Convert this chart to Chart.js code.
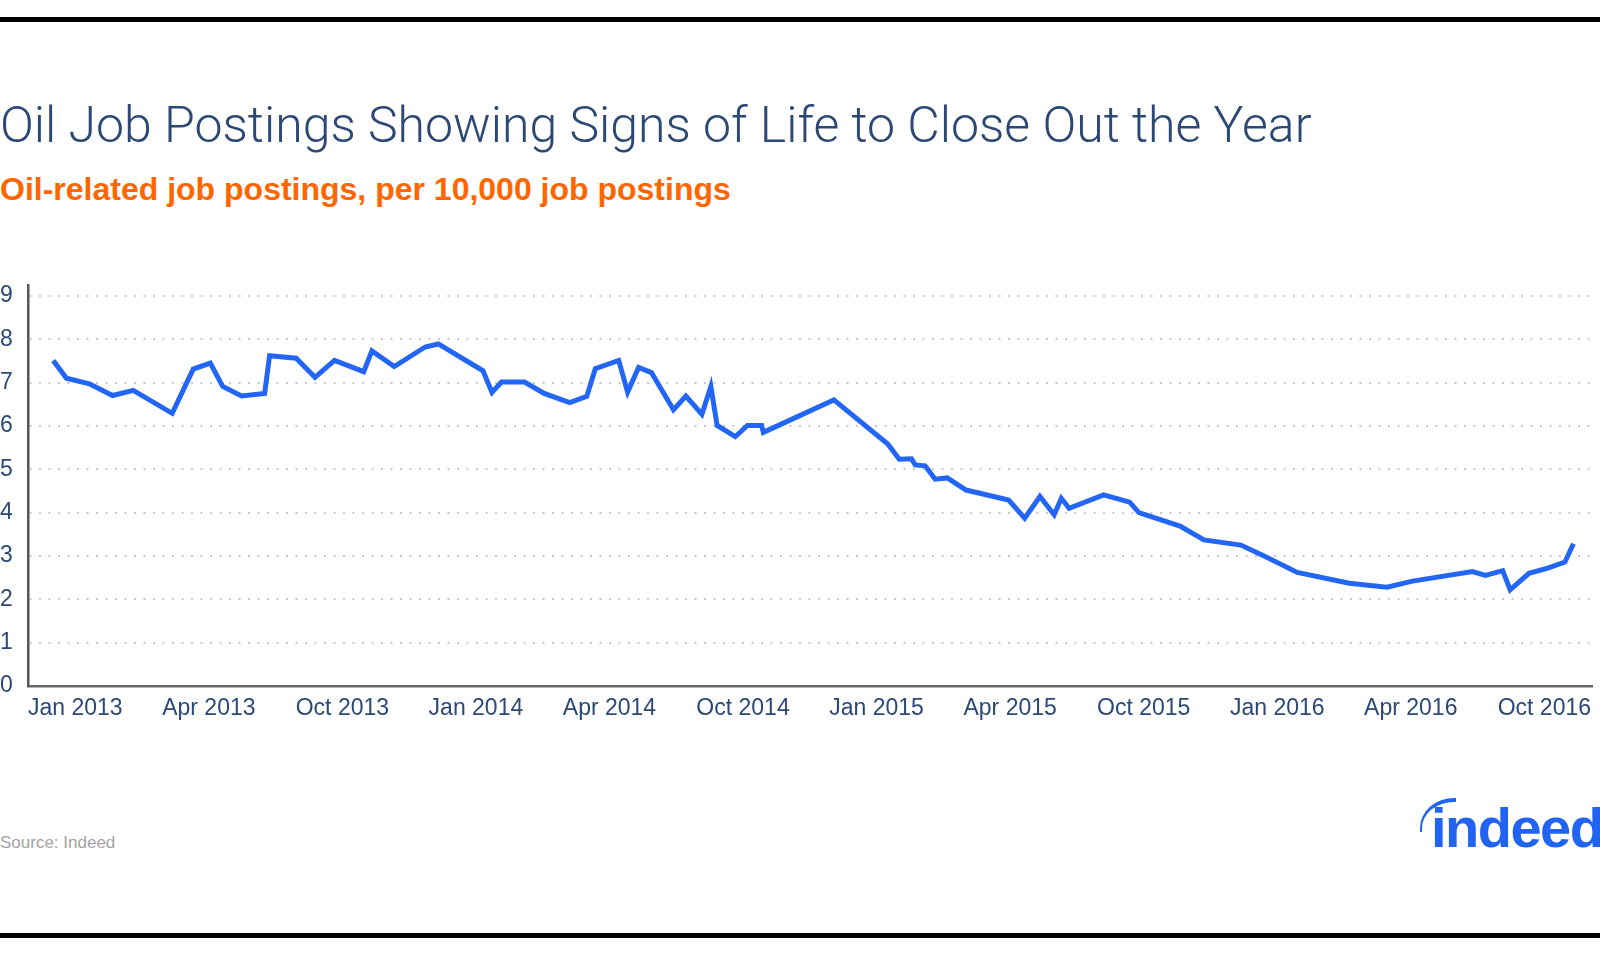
<!DOCTYPE html>
<html>
<head>
<meta charset="utf-8">
<script src="https://cdn.jsdelivr.net/npm/chart.js@4"></script>
<style>
    html, body { margin: 0; padding: 0; background: #fff; }
    body { width: 1600px; height: 956px; position: relative; overflow: hidden; font-family: "Liberation Sans", Arial, sans-serif; }
    .bar { position: absolute; left: 0; width: 1600px; height: 5px; background: #000; }
    .title { position: absolute; left: 0; top: 100px; font-family: Roboto, "Liberation Sans", sans-serif; font-weight: 300; font-size: 50px; line-height: 1; color: #2c4875; white-space: nowrap; }
    .subtitle { position: absolute; left: 0; top: 173px; font-weight: bold; font-size: 32px; line-height: 1; color: #ff6600; white-space: nowrap; }
    .source { position: absolute; left: 0; top: 834px; font-size: 17px; line-height: 1; color: #a3a3a3; }
    .logo { position: absolute; left: 1431px; top: 800px; font-weight: bold; font-size: 56px; line-height: 1; color: #2164f3; letter-spacing: -1.5px; }
    .swoosh { position: absolute; left: 1420px; top: 798px; width: 34px; height: 30px; border-left: 2px solid #2164f3; border-top: 4px solid #2164f3; border-top-left-radius: 34px 30px; }
    #chart { position: absolute; left: 0; top: 260px; }
</style>
</head>
<body>
<div class="bar" style="top:17px"></div>
<div class="title">Oil Job Postings Showing Signs of Life to Close Out the Year</div>
<div class="subtitle">Oil-related job postings, per 10,000 job postings</div>
<canvas id="chart" width="1600" height="480"></canvas>
<div class="source">Source: Indeed</div>
<div class="swoosh"></div>
<div class="logo">indeed</div>
<div class="bar" style="top:933px"></div>

<script>
// axis labels, one per evenly spaced slot on the x axis
const tickLabels = ['Jan 2013', 'Apr 2013', 'Oct 2013', 'Jan 2014', 'Apr 2014', 'Oct 2014',
                    'Jan 2015', 'Apr 2015', 'Oct 2015', 'Jan 2016', 'Apr 2016', 'Oct 2016'];
const yTicks = [0, 1, 2, 3, 4, 5, 6, 7, 8, 9];

// position along the label slots (0 = Jan 2013) and the value read at that point
const slotPos = [-0.165, -0.066, 0.106, 0.279, 0.434, 0.726, 0.883, 1.011, 1.104, 1.245,
                 1.418, 1.455, 1.654, 1.795, 1.941, 2.160, 2.221, 2.388, 2.620, 2.718,
                 3.053, 3.120, 3.191, 3.364, 3.511, 3.702, 3.830, 3.894, 4.069, 4.136,
                 4.218, 4.314, 4.479, 4.572, 4.692, 4.759, 4.806, 4.942, 5.033, 5.139,
                 5.152, 5.680, 6.084, 6.170, 6.262, 6.289, 6.364, 6.438, 6.529, 6.670,
                 6.989, 7.109, 7.223, 7.330, 7.383, 7.442, 7.700, 7.895, 7.964, 8.272,
                 8.451, 8.728, 8.894, 9.150, 9.540, 9.822, 10.013, 10.462, 10.559, 10.688,
                 10.744, 10.885, 11.026, 11.154, 11.218];
const oilPostings = [7.51, 7.10, 6.97, 6.70, 6.82, 6.29, 7.31, 7.45, 6.91, 6.69,
                     6.75, 7.62, 7.56, 7.12, 7.51, 7.25, 7.73, 7.37, 7.82, 7.89,
                     7.27, 6.77, 7.01, 7.01, 6.75, 6.54, 6.68, 7.32, 7.51, 6.78,
                     7.35, 7.23, 6.37, 6.69, 6.27, 6.91, 6.01, 5.75, 6.01, 6.01,
                     5.85, 6.60, 5.58, 5.23, 5.24, 5.10, 5.08, 4.77, 4.80, 4.52,
                     4.29, 3.87, 4.37, 3.95, 4.33, 4.10, 4.41, 4.24, 4.00, 3.69,
                     3.37, 3.25, 3.01, 2.62, 2.37, 2.28, 2.42, 2.64, 2.55, 2.66,
                     2.22, 2.60, 2.72, 2.86, 3.28];

const navy = '#2c4875';
const tickFont = { family: "'Liberation Sans', Arial, sans-serif", size: 23 };

const ctx = document.getElementById('chart').getContext('2d');
new Chart(ctx, {
    type: 'line',
    data: {
        datasets: [{
            label: 'Oil-related job postings',
            data: slotPos.map((x, i) => ({ x: x, y: oilPostings[i] })),
            borderColor: '#2366f5',
            borderWidth: 5,
            pointRadius: 0,
            fill: false,
            tension: 0
        }]
    },
    options: {
        responsive: false,
        animation: false,
        devicePixelRatio: 1,
        layout: { padding: { top: 25, left: 0, right: 0, bottom: 0 } },
        plugins: {
            legend: { display: false },
            tooltip: { enabled: false }
        },
        scales: {
            x: {
                type: 'linear',
                min: -0.354,
                max: 11.36,
                afterBuildTicks: scale => { scale.ticks = tickLabels.map((l, i) => ({ value: i })); },
                afterFit: scale => { scale.height = 54; },
                ticks: {
                    color: navy,
                    font: tickFont,
                    padding: 9,
                    maxRotation: 0,
                    autoSkip: false,
                    callback: v => tickLabels[v]
                },
                grid: { display: false, drawTicks: false },
                border: { display: true, color: '#666', width: 2.5 }
            },
            y: {
                min: 0,
                max: 9.25,
                afterBuildTicks: scale => { scale.ticks = yTicks.map(v => ({ value: v })); },
                afterFit: scale => { scale.width = 28; },
                ticks: {
                    color: navy,
                    font: tickFont,
                    crossAlign: 'far',
                    padding: 6
                },
                grid: {
                    color: ctx => ctx.tick.value === 0 ? 'rgba(0,0,0,0)' : '#c9c9c9',
                    lineWidth: 2,
                    drawTicks: false
                },
                border: { display: true, color: '#555', width: 2.5, dash: [2, 7.5] }
            }
        }
    }
});
</script>
</body>
</html>
